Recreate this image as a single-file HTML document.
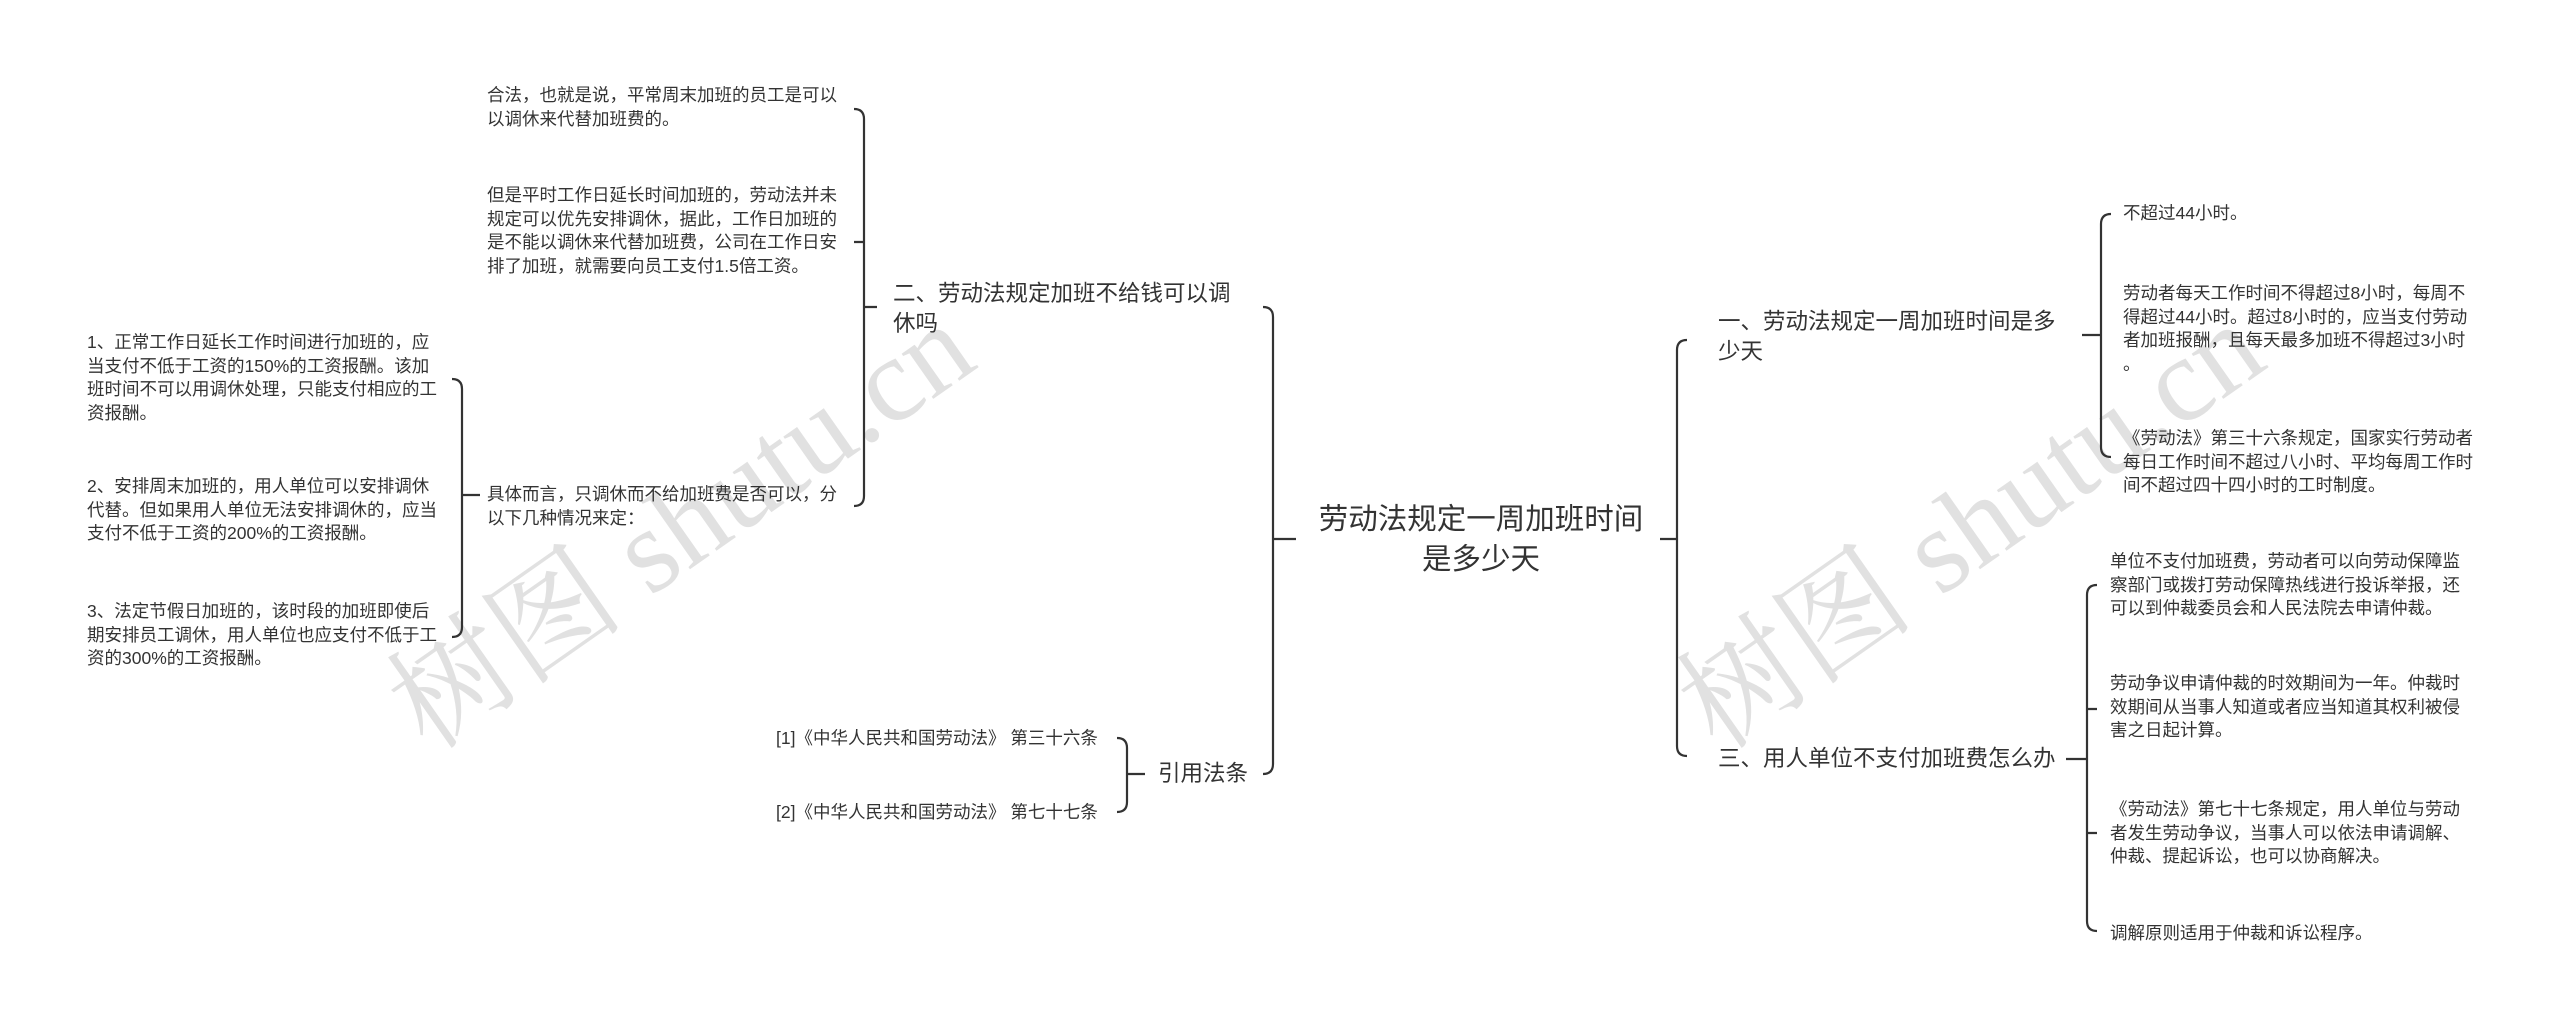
<!DOCTYPE html>
<html><head><meta charset="utf-8">
<style>
html,body{margin:0;padding:0;background:#fff;}
body{width:2560px;height:1028px;position:relative;overflow:hidden;font-family:"Liberation Sans","Noto Sans CJK SC",sans-serif;color:#333;}
.t{position:absolute;white-space:nowrap;font-size:17.5px;line-height:23.5px;}
.m{position:absolute;white-space:nowrap;font-size:22.5px;line-height:30px;}
.r{position:absolute;white-space:nowrap;font-size:29.5px;line-height:40px;text-align:center;}
svg{position:absolute;left:0;top:0;}
.wm{position:absolute;font-family:"Liberation Serif","Noto Serif CJK SC",serif;font-size:120px;color:rgba(180,180,180,0.4);transform:rotate(-35deg);transform-origin:left top;white-space:nowrap;}
</style></head><body>
<div class="wm" style="left:350px;top:640px;">树图 shutu.cn</div>
<div class="wm" style="left:1640px;top:640px;">树图 shutu.cn</div>
<svg width="2560" height="1028" fill="none" stroke="#333" stroke-width="2.2">
<path d="M1660 539 H1677 M1687 340 Q1677 340 1677 350 V746 Q1677 756 1687 756"/>
<path d="M1296 539 H1273 M1263 307 Q1273 307 1273 317 V764 Q1273 774 1263 774"/>
<path d="M2082 335 H2101 M2111 214 Q2101 214 2101 224 V447 Q2101 457 2111 457"/>
<path d="M2066 759 H2087 M2097 585 Q2087 585 2087 595 V921 Q2087 931 2097 931 M2087 709 H2097 M2087 833 H2097"/>
<path d="M877 307 H864 M854 109 Q864 109 864 119 V496 Q864 506 854 506 M864 242 H854"/>
<path d="M480 495 H462 M452 379 Q462 379 462 389 V627 Q462 637 452 637"/>
<path d="M1145 774 H1127 M1117 738 Q1127 738 1127 748 V802 Q1127 812 1117 812"/>
</svg>

<div class="r" style="left:1290px;top:500px;width:382px;">劳动法规定一周加班时间<br>是多少天</div>

<div class="m" style="left:1718px;top:307px;">一、劳动法规定一周加班时间是多<br>少天</div>
<div class="m" style="left:1718px;top:744px;">三、用人单位不支付加班费怎么办</div>
<div class="m" style="left:893px;top:279px;">二、劳动法规定加班不给钱可以调<br>休吗</div>
<div class="m" style="left:1158px;top:759px;">引用法条</div>

<div class="t" style="left:2123px;top:202px;">不超过44小时。</div>
<div class="t" style="left:2123px;top:282px;">劳动者每天工作时间不得超过8小时，每周不<br>得超过44小时。超过8小时的，应当支付劳动<br>者加班报酬，且每天最多加班不得超过3小时<br>。</div>
<div class="t" style="left:2123px;top:427px;">《劳动法》第三十六条规定，国家实行劳动者<br>每日工作时间不超过八小时、平均每周工作时<br>间不超过四十四小时的工时制度。</div>

<div class="t" style="left:2110px;top:550px;">单位不支付加班费，劳动者可以向劳动保障监<br>察部门或拨打劳动保障热线进行投诉举报，还<br>可以到仲裁委员会和人民法院去申请仲裁。</div>
<div class="t" style="left:2110px;top:672px;">劳动争议申请仲裁的时效期间为一年。仲裁时<br>效期间从当事人知道或者应当知道其权利被侵<br>害之日起计算。</div>
<div class="t" style="left:2110px;top:798px;">《劳动法》第七十七条规定，用人单位与劳动<br>者发生劳动争议，当事人可以依法申请调解、<br>仲裁、提起诉讼，也可以协商解决。</div>
<div class="t" style="left:2110px;top:922px;">调解原则适用于仲裁和诉讼程序。</div>

<div class="t" style="left:487px;top:84px;">合法，也就是说，平常周末加班的员工是可以<br>以调休来代替加班费的。</div>
<div class="t" style="left:487px;top:184px;">但是平时工作日延长时间加班的，劳动法并未<br>规定可以优先安排调休，据此，工作日加班的<br>是不能以调休来代替加班费，公司在工作日安<br>排了加班，就需要向员工支付1.5倍工资。</div>
<div class="t" style="left:487px;top:483px;">具体而言，只调休而不给加班费是否可以，分<br>以下几种情况来定：</div>

<div class="t" style="left:87px;top:331px;">1、正常工作日延长工作时间进行加班的，应<br>当支付不低于工资的150%的工资报酬。该加<br>班时间不可以用调休处理，只能支付相应的工<br>资报酬。</div>
<div class="t" style="left:87px;top:475px;">2、安排周末加班的，用人单位可以安排调休<br>代替。但如果用人单位无法安排调休的，应当<br>支付不低于工资的200%的工资报酬。</div>
<div class="t" style="left:87px;top:600px;">3、法定节假日加班的，该时段的加班即使后<br>期安排员工调休，用人单位也应支付不低于工<br>资的300%的工资报酬。</div>

<div class="t" style="left:776px;top:727px;">[1]《中华人民共和国劳动法》 第三十六条</div>
<div class="t" style="left:776px;top:801px;">[2]《中华人民共和国劳动法》 第七十七条</div>
</body></html>
